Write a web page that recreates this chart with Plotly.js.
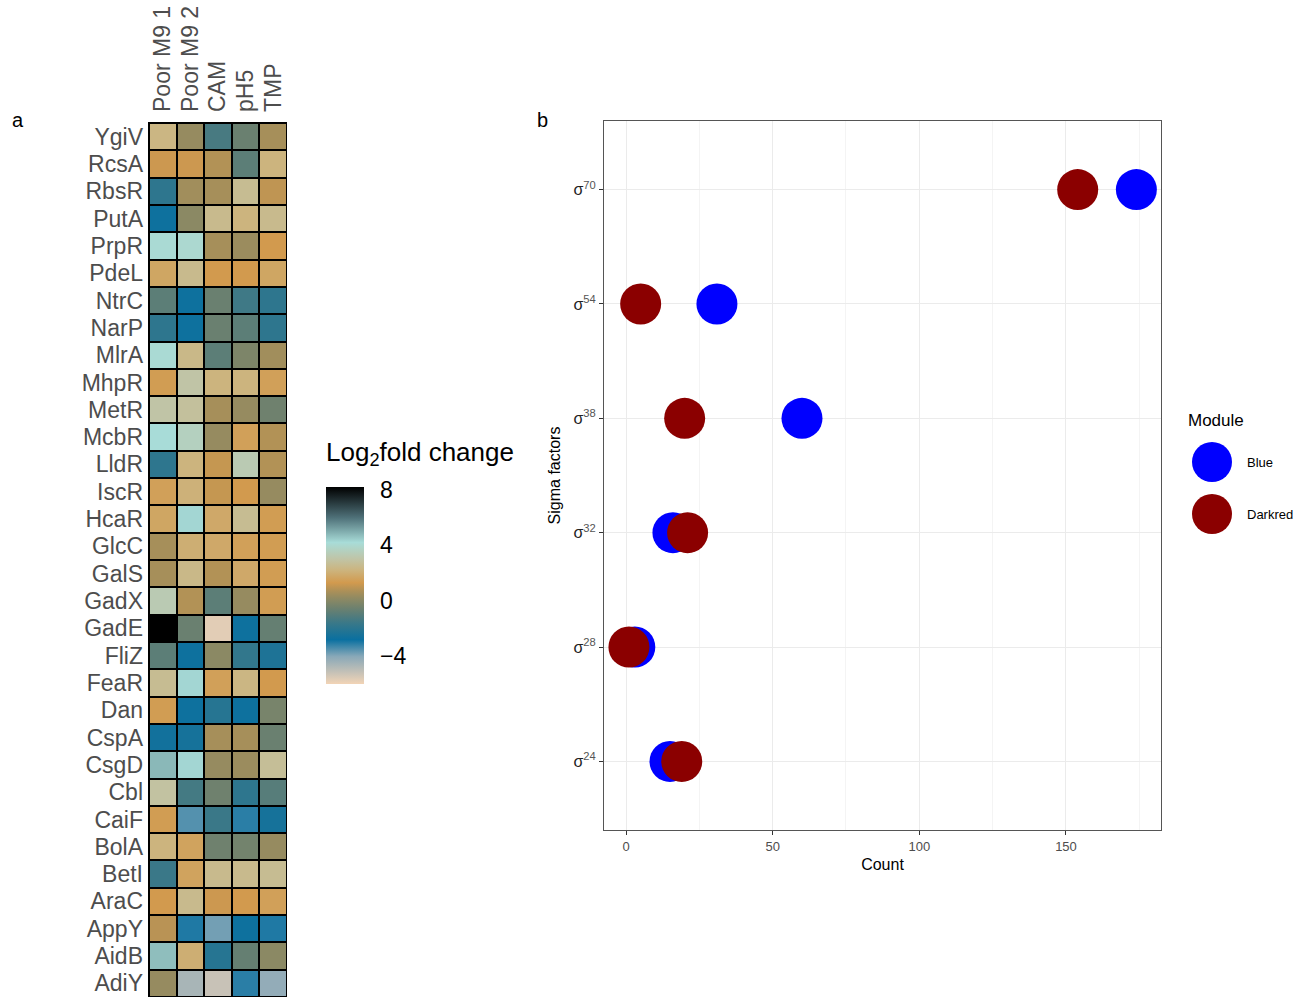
<!DOCTYPE html>
<html><head><meta charset="utf-8">
<script src="https://cdn.plot.ly/plotly-3.0.1.min.js"></script>
<style>html,body{margin:0;padding:0;background:#fff}#chart{width:1309px;height:997px}</style>
</head><body><div id="chart"></div>
<script>
// ---- Panel a: heatmap data ----
const conditions = ['Poor M9 1', 'Poor M9 2', 'CAM', 'pH5', 'TMP'];
const regulators = ['YgiV','RcsA','RbsR','PutA','PrpR','PdeL','NtrC','NarP','MlrA','MhpR','MetR','McbR','LldR','IscR','HcaR','GlcC','GalS','GadX','GadE','FliZ','FeaR','Dan','CspA','CsgD','Cbl','CaiF','BolA','BetI','AraC','AppY','AidB','AdiY'];
const log2fc = [
  [2.3, 0.3, -1.3, -0.6, 0.6],   // YgiV
  [1.2, 1.2, 0.8, -0.9, 2.2],    // RcsA
  [-1.9, 0.5, 0.6, 2.6, 1.0],    // RbsR
  [-2.7, 0.1, 2.5, 2.2, 2.5],    // PutA
  [4.1, 4.0, 0.6, 0.4, 1.3],     // PrpR
  [1.7, 2.5, 1.3, 1.3, 1.7],     // PdeL
  [-0.9, -2.7, -0.6, -1.5, -1.9],// NtrC
  [-1.9, -2.7, -0.6, -0.9, -1.9],// NarP
  [4.1, 2.4, -0.9, -0.2, 0.5],   // MlrA
  [1.4, 3.0, 2.2, 2.2, 1.5],     // MhpR
  [3.0, 2.8, 0.6, 0.3, -0.5],    // MetR
  [4.2, 3.6, 0.3, 1.5, 0.8],     // McbR
  [-1.9, 2.2, 1.1, 3.3, 0.8],    // LldR
  [1.5, 2.1, 1.1, 1.3, 0.3],     // IscR
  [1.7, 4.3, 1.8, 2.6, 1.4],     // HcaR
  [0.6, 2.0, 1.8, 1.5, 1.4],     // GlcC
  [0.6, 2.4, 0.8, 1.8, 1.4],     // GalS
  [3.3, 0.8, -0.9, 0.3, 1.4],    // GadX
  [8.2, -0.6, -5.7, -2.7, -0.7], // GadE
  [-0.9, -2.7, 0.1, -1.8, -2.3], // FliZ
  [2.6, 4.3, 1.5, 2.3, 1.3],     // FeaR
  [1.4, -2.7, -2.1, -2.7, -0.3], // Dan
  [-2.6, -2.5, 0.6, 0.6, -0.6],  // CspA
  [4.8, 4.3, 0.3, 0.4, 2.7],     // CsgD
  [2.9, -1.4, -0.5, -1.9, -1.0], // Cbl
  [1.4, -3.5, -1.6, -3.1, -2.5], // CaiF
  [2.2, 1.6, -0.5, -0.4, 0.3],   // BolA
  [-1.6, 1.6, 2.5, 2.5, 2.6],    // BetI
  [1.3, 2.5, 1.2, 1.3, 1.5],     // AraC
  [0.9, -3.0, -3.8, -2.7, -3.0], // AppY
  [4.7, 2.0, -2.1, -0.7, 0.1],   // AidB
  [0.3, -4.6, -5.2, -3.1, -4.2]  // AdiY
];
const colorTicks = [8, 4, 0, -4];

// ---- Panel b: sigma factor counts ----
const sigmaFactors = ['σ70', 'σ54', 'σ38', 'σ32', 'σ28', 'σ24'];
const sigmaLabels = ['70', '54', '38', '32', '28', '24'];
const blueCounts = [174, 31, 60, 16, 3, 15];
const darkredCounts = [154, 5, 20, 21, 1, 19];
const countTicks = [0, 50, 100, 150];

const W = 1309, H = 997;
const px = v => v / W;
const py = v => 1 - v / H;

const zmin = -6, zmax = 8.2;
const stops = [[-6,'#f2d4b6'],[-4,'#88a8b8'],[-2.8,'#0a70a0'],[-1.6,'#3a7888'],[-0.6,'#6a8070'],[0.2,'#908a62'],[0.7,'#ac9058'],[1.3,'#d29a4e'],[2.2,'#ccb47e'],[3.0,'#c0c4a6'],[4.2,'#a8dcd8'],[6,'#4e7078'],[8.2,'#000000']];
const colorscale = stops.map(s => [(s[0]-zmin)/(zmax-zmin), s[1]]);

const sans = '"Liberation Sans", Arial, sans-serif';

// colour bar geometry (pixels)
const cbLeft = 326, cbWidth = 38, cbTop = 487, cbBottom = 684;
const cbY = v => cbBottom - (v - zmin) / (zmax - zmin) * (cbBottom - cbTop);

const heat = {
  type: 'heatmap', x: conditions, y: regulators, z: log2fc,
  xaxis: 'x', yaxis: 'y', zmin: zmin, zmax: zmax, colorscale: colorscale,
  xgap: 2, ygap: 2,
  colorbar: {
    x: px(cbLeft), xanchor: 'left', xpad: 0, ypad: 0,
    y: py((cbTop + cbBottom) / 2), yanchor: 'middle', len: cbBottom - cbTop, lenmode: 'pixels',
    thickness: cbWidth, thicknessmode: 'pixels', outlinewidth: 0,
    tickmode: 'array', tickvals: colorTicks, ticktext: colorTicks.map(v => v < 0 ? '\u2212' + Math.abs(v) : String(v)),
    ticks: 'outside', ticklen: 12, tickcolor: 'rgba(0,0,0,0)', tickwidth: 1,
    tickfont: {family: sans, size: 23, color: '#000'}
  }
};

const blue = {
  type: 'scatter', mode: 'markers', name: 'Blue', x: blueCounts, y: sigmaFactors,
  xaxis: 'x2', yaxis: 'y2', showlegend: false,
  marker: {color: '#0000ff', size: 41, line: {width: 0}}
};
const red = {
  type: 'scatter', mode: 'markers', name: 'Darkred', x: darkredCounts, y: sigmaFactors,
  xaxis: 'x2', yaxis: 'y2', showlegend: false,
  marker: {color: '#8b0000', size: 41, line: {width: 0}}
};

const shapes = [
  {type: 'rect', xref: 'paper', yref: 'paper', x0: px(148), x1: px(287), y0: py(997), y1: py(122),
   fillcolor: '#000', line: {width: 0}, layer: 'below'},
  {type: 'circle', xref: 'paper', yref: 'paper', x0: px(1192), x1: px(1232), y0: py(482), y1: py(442),
   fillcolor: '#0000ff', line: {width: 0}},
  {type: 'circle', xref: 'paper', yref: 'paper', x0: px(1192), x1: px(1232), y0: py(534), y1: py(494),
   fillcolor: '#8b0000', line: {width: 0}}
];
// white tick marks inside the colour bar (ggplot style)
colorTicks.forEach(v => {
  const yy = py(cbY(v));
  shapes.push({type: 'line', xref: 'paper', yref: 'paper', x0: px(cbLeft), x1: px(cbLeft + 7), y0: yy, y1: yy, line: {color: '#fff', width: 1}});
  shapes.push({type: 'line', xref: 'paper', yref: 'paper', x0: px(cbLeft + cbWidth - 7), x1: px(cbLeft + cbWidth), y0: yy, y1: yy, line: {color: '#fff', width: 1}});
});

const layout = {
  width: W, height: H, margin: {l: 0, r: 0, t: 0, b: 0},
  paper_bgcolor: '#ffffff', plot_bgcolor: '#ffffff', showlegend: false,
  font: {family: sans},
  xaxis: {
    domain: [px(149), px(287)], side: 'top', type: 'category',
    tickmode: 'array', tickvals: conditions, ticktext: conditions,
    tickangle: -90, showgrid: false, zeroline: false, showline: false, ticks: '',
    tickfont: {family: sans, size: 23, color: '#4d4d4d'}, ticklabelstandoff: 10
  },
  yaxis: {
    domain: [py(997), py(123)], type: 'category', autorange: 'reversed',
    tickmode: 'array', tickvals: regulators, ticktext: regulators,
    showgrid: false, zeroline: false, showline: false, ticks: '',
    tickfont: {family: sans, size: 23, color: '#4d4d4d'}, ticklabelstandoff: 5
  },
  xaxis2: {
    domain: [px(604), px(1161)], anchor: 'y2', range: [-7.5, 182.4],
    tickvals: countTicks, ticks: 'outside', ticklen: 4, tickcolor: '#333',
    tickfont: {size: 13, color: '#4d4d4d'},
    showgrid: true, gridcolor: '#ebebeb', gridwidth: 1, zeroline: false,
    showline: true, mirror: true, linecolor: '#555', linewidth: 1,
    minor: {dtick: 25, tick0: 0, showgrid: true, gridcolor: '#f4f4f4', gridwidth: 1, ticks: ''},
    title: {text: 'Count', font: {size: 16, color: '#000'}, standoff: 6}
  },
  yaxis2: {
    domain: [py(830), py(121)], anchor: 'x2', type: 'category',
    categoryorder: 'array', categoryarray: sigmaFactors, range: [5.6, -0.6],
    tickmode: 'array', tickvals: sigmaFactors, ticktext: sigmaLabels.map(s => 'σ<sup><span style="fill:#555">' + s + '</span></sup>'),
    ticks: 'outside', ticklen: 4, tickcolor: '#333',
    tickfont: {size: 16, color: '#222'},
    showgrid: true, gridcolor: '#ebebeb', gridwidth: 1, zeroline: false,
    showline: true, mirror: true, linecolor: '#555', linewidth: 1,
    title: {text: 'Sigma factors', font: {size: 16, color: '#000'}, standoff: 8}
  },
  shapes: shapes,
  annotations: [
    {text: 'a', xref: 'paper', yref: 'paper', x: px(10), y: py(120), xanchor: 'left', yanchor: 'middle', showarrow: false, font: {size: 20, color: '#000'}},
    {text: 'b', xref: 'paper', yref: 'paper', x: px(535), y: py(120), xanchor: 'left', yanchor: 'middle', showarrow: false, font: {size: 20, color: '#000'}},
    {text: 'Log<sub>2</sub>fold change', xref: 'paper', yref: 'paper', x: px(324), y: py(453), xanchor: 'left', yanchor: 'middle', showarrow: false, font: {family: sans, size: 26, color: '#000'}},
    {text: 'Module', xref: 'paper', yref: 'paper', x: px(1186), y: py(421), xanchor: 'left', yanchor: 'middle', showarrow: false, font: {size: 17, color: '#000'}},
    {text: 'Blue', xref: 'paper', yref: 'paper', x: px(1245), y: py(462), xanchor: 'left', yanchor: 'middle', showarrow: false, font: {size: 13, color: '#000'}},
    {text: 'Darkred', xref: 'paper', yref: 'paper', x: px(1245), y: py(514), xanchor: 'left', yanchor: 'middle', showarrow: false, font: {size: 13, color: '#000'}}
  ]
};

Plotly.newPlot('chart', [heat, blue, red], layout, {displayModeBar: false, staticPlot: true});
</script></body></html>
